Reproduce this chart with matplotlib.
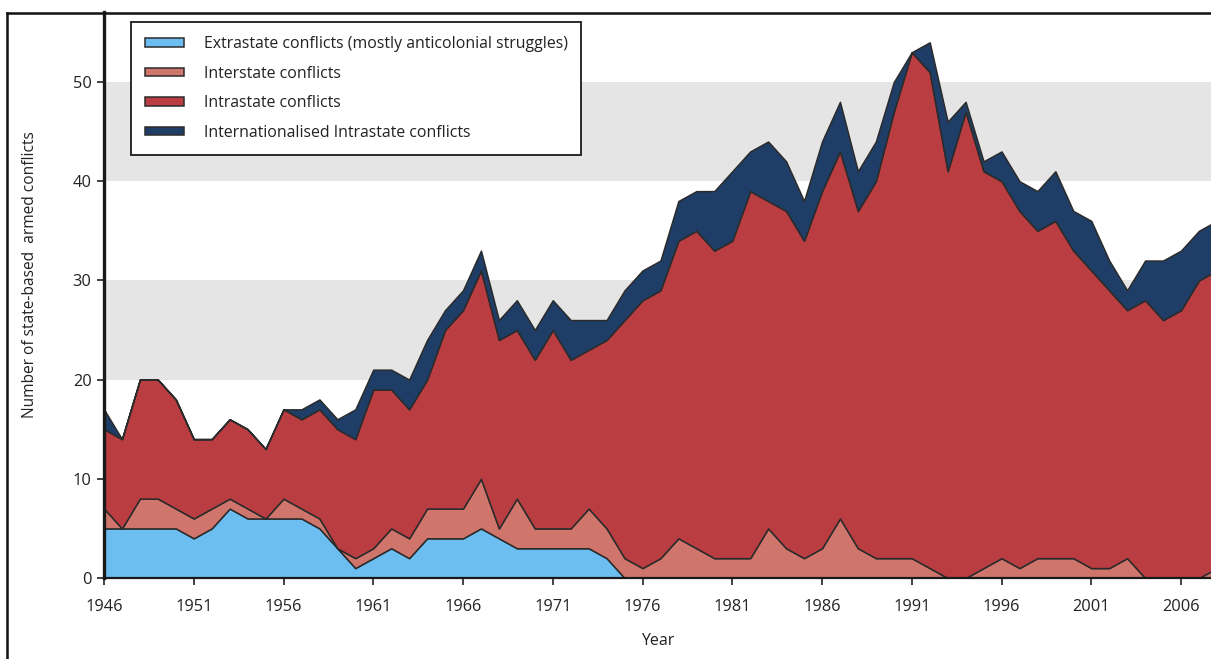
import matplotlib
matplotlib.use("Agg")
import matplotlib.pyplot as plt
from matplotlib.lines import Line2D
from matplotlib.patches import Patch
import numpy as np

plt.rcParams['font.family'] = ['Open Sans', 'DejaVu Sans']

years = list(range(1946, 2009))

extrastate = [5, 5, 5, 5, 5, 4, 5, 7, 6, 6, 6, 6, 5, 3, 1, 2, 3, 2, 4, 4,
              4, 5, 4, 3, 3, 3, 3, 3, 2] + [0] * 34

interstate = [2, 0, 3, 3, 2, 2, 2, 1, 1, 0, 2, 1, 1, 0, 1, 1, 2, 2, 3, 3,
              3, 5, 1, 5, 2, 2, 2, 4, 3, 2, 1, 2, 4, 3, 2, 2, 2, 5, 3, 2,
              3, 6, 3, 2, 2, 2, 1, 0, 0, 1, 2, 1, 2, 2, 2, 1, 1, 2, 0, 0,
              0, 0, 1]

intrastate = [8, 9, 12, 12, 11, 8, 7, 8, 8, 7, 9, 9, 11, 12, 12, 16, 14, 13, 13, 18,
              20, 21, 19, 17, 17, 20, 17, 16, 19, 24, 27, 27, 30, 32, 31, 32, 37, 33, 34, 32,
              36, 37, 34, 38, 45, 51, 50, 41, 47, 40, 38, 36, 33, 34, 31, 30, 28, 25, 28, 26,
              27, 30, 30]

internationalised = [2, 0, 0, 0, 0, 0, 0, 0, 0, 0, 0, 1, 1, 1, 3, 2, 2, 3, 4, 2,
                     2, 2, 2, 3, 3, 3, 4, 3, 2, 3, 3, 3, 4, 4, 6, 7, 4, 6, 5, 4,
                     5, 5, 4, 4, 3, 0, 3, 5, 1, 1, 3, 3, 4, 5, 4, 5, 3, 2, 4, 6,
                     6, 5, 5]

labels = ["Extrastate conflicts (mostly anticolonial struggles)",
          "Interstate conflicts",
          "Intrastate conflicts",
          "Internationalised Intrastate conflicts"]
colors = ["#6cbdf0", "#cf756b", "#b93d41", "#1f3e67"]
xtick_years = list(range(1946, 2007, 5))
ytick_vals = [0, 10, 20, 30, 40, 50]

W, H = 1211, 659
fig = plt.figure(figsize=(W / 100, H / 100), dpi=100)
ax = fig.add_axes([104 / W, 1 - 578 / H, 1 - 104 / W, (578 - 12) / H])

# gray bands
for lo, hi in [(20, 30), (40, 50)]:
    ax.axhspan(lo, hi, color="#e5e5e6", lw=0, zorder=0)

ax.stackplot(years, extrastate, interstate, intrastate, internationalised,
             colors=colors, edgecolor="#2b2b2b", linewidth=1.1, zorder=2)

ax.set_xlim(1946, 1946 + (W - 104) / 17.95)
ax.set_ylim(0, (578 - 12) / 9.92)

ax.set_xticks(xtick_years)
ax.set_xticklabels([str(y) for y in xtick_years])
ax.set_yticks(ytick_vals)
ax.tick_params(axis="both", labelsize=11.8, color="#222222", width=1.2, length=5,
               labelcolor="#222222")
ax.tick_params(axis="x", pad=10)
ax.tick_params(axis="y", pad=4)

for s in ["top", "right"]:
    ax.spines[s].set_visible(False)
ax.spines["left"].set_linewidth(2.4)
ax.spines["left"].set_color("#1a1a1a")
ax.spines["bottom"].set_linewidth(1.6)
ax.spines["bottom"].set_color("#1a1a1a")
ax.spines["left"].set_zorder(5)
ax.spines["bottom"].set_zorder(5)

ax.set_xlabel("Year", fontsize=11.5, color="#222222", labelpad=13)
fig.text(30 / W, 1 - 275 / H, "Number of state-based  armed conflicts", rotation=90,
         ha="center", va="center", fontsize=11.2, color="#222222")

handles = [Patch(facecolor=c, edgecolor="#2b2b2b", linewidth=1.1) for c in colors]
leg = fig.legend(handles, labels, loc="upper left",
                 bbox_to_anchor=(131 / W, 1 - 22 / H), bbox_transform=fig.transFigure,
                 fontsize=11.4, frameon=True, fancybox=False, framealpha=1,
                 borderaxespad=0, handlelength=2.45, handleheight=0.45,
                 handletextpad=1.25, labelspacing=0.86, borderpad=0.88)
leg.get_frame().set_edgecolor("#1a1a1a")
leg.get_frame().set_linewidth(1.3)
for t in leg.get_texts():
    t.set_color("#222222")

# outer frame
fig.add_artist(Line2D([7 / W, 1], [1 - 13 / H, 1 - 13 / H], transform=fig.transFigure,
                      color="#111111", lw=1.8))
fig.add_artist(Line2D([7 / W, 7 / W], [0, 1 - 13 / H], transform=fig.transFigure,
                      color="#111111", lw=1.8))

fig.savefig("out.png", dpi=100)
